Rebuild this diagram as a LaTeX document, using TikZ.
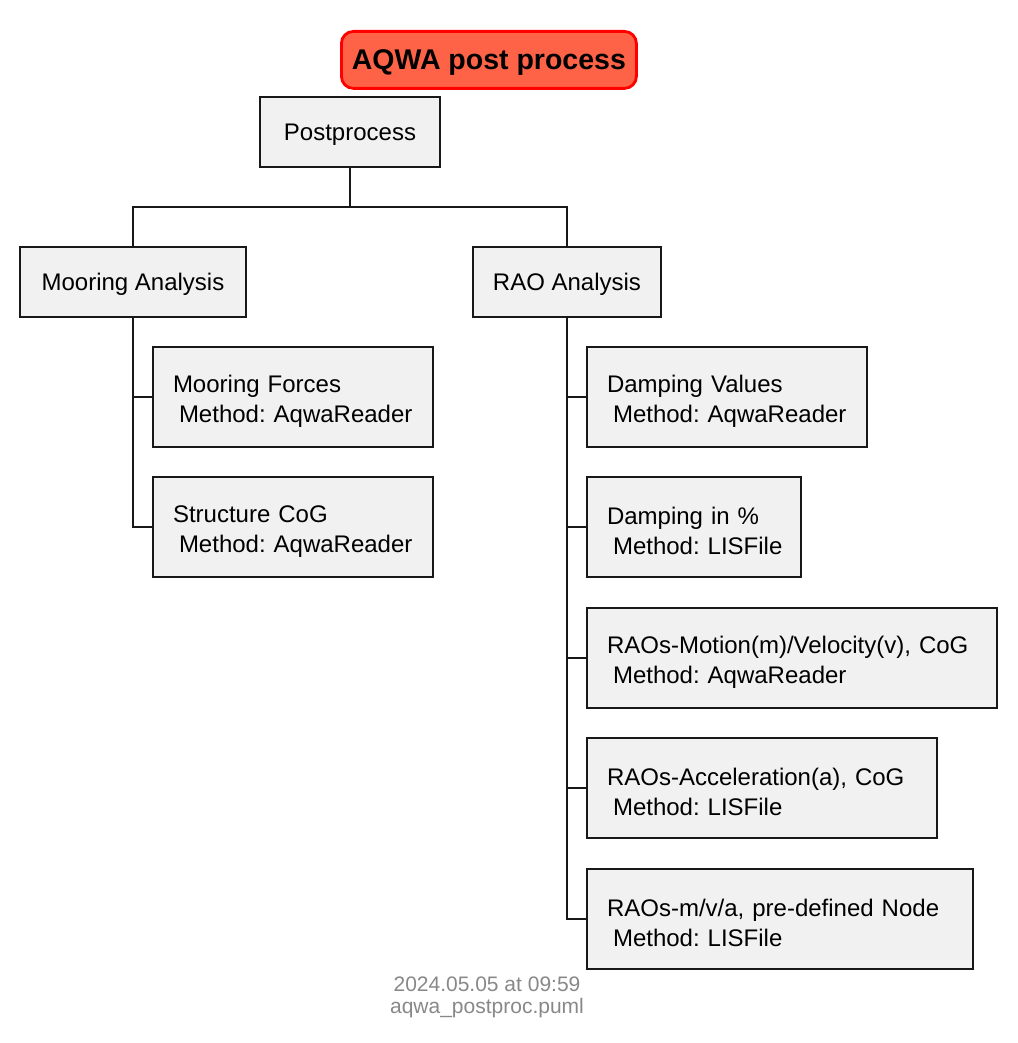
\documentclass[tikz,border=0pt]{standalone}
\usepackage{fontspec}
\setmainfont{Liberation Sans}
\frenchspacing
\definecolor{boxfill}{HTML}{F1F1F1}
\definecolor{linec}{HTML}{181818}
\definecolor{titlefill}{HTML}{FF6347}
\definecolor{footc}{HTML}{888888}
\newcommand{\twoline}[2]{\mbox{\rule{0pt}{25pt}#1}\\\mbox{\hspace*{6pt}#2}}
\begin{document}
\begin{tikzpicture}[x=1pt,y=-1pt,
  box/.style={draw=linec, fill=boxfill, line width=2.4pt, font=\fontsize{24}{30}\selectfont\frenchspacing, inner sep=0pt, outer sep=0pt},
  topbox/.style={box, anchor=north west, align=center, minimum height=70pt, text depth=0pt},
  leaf/.style={box, anchor=north west, align=left, inner xsep=20pt, minimum height=100pt},
  conn/.style={draw=linec, line width=2.4pt},
  foot/.style={text=footc, font=\fontsize{21}{24}\selectfont, inner sep=0pt}
]
\useasboundingbox (0,0) rectangle (1017,1043);
\node[draw=red, fill=titlefill, line width=2.8pt, rounded corners=12pt, minimum width=295pt, minimum height=57pt, inner sep=0pt, text depth=0pt, font=\fontsize{28.5}{32}\selectfont\bfseries, anchor=north west] (title) at (340,30) {AQWA post process};
\node[topbox, minimum width=180pt] (post) at (260,97) {Postprocess};
\node[topbox, minimum width=226pt] (moor) at (20,247) {Mooring Analysis};
\node[topbox, minimum width=188pt] (rao) at (473,247) {RAO Analysis};
\node[leaf, text width=240pt] (mf) at (153,347) {\twoline{Mooring Forces}{Method: AqwaReader}};
\node[leaf, text width=240pt] (sc) at (153,477) {\twoline{Structure CoG}{Method: AqwaReader}};
\node[leaf, text width=240pt] (dv) at (587,347) {\twoline{Damping Values}{Method: AqwaReader}};
\node[leaf, text width=174pt] (dp) at (587,477) {\twoline{Damping in \%}{Method: LISFile}};
\node[leaf, text width=370pt] (rm) at (587,608) {\twoline{RAOs-Motion(m)/Velocity(v), CoG}{Method: AqwaReader}};
\node[leaf, text width=310pt] (ra) at (587,738) {\twoline{RAOs-Acceleration(a), CoG}{Method: LISFile}};
\node[leaf, text width=346pt] (rn) at (587,869) {\twoline{RAOs-m/v/a, pre-defined Node}{Method: LISFile}};
\draw[conn] (post.south) -- ++(0,40) -| (moor.north);
\draw[conn] (post.south) -- ++(0,40) -| (rao.north);
\draw[conn] (moor.south) |- (mf.west);
\draw[conn] (moor.south) |- (sc.west);
\foreach \n in {dv,dp,rm,ra,rn} \draw[conn] (rao.south) |- (\n.west);
\node[foot] (d1) at (487,984) {2024.05.05 at 09:59};
\node[foot] (d2) at (487,1008) {aqwa\_postproc.puml};
\end{tikzpicture}
\end{document}
